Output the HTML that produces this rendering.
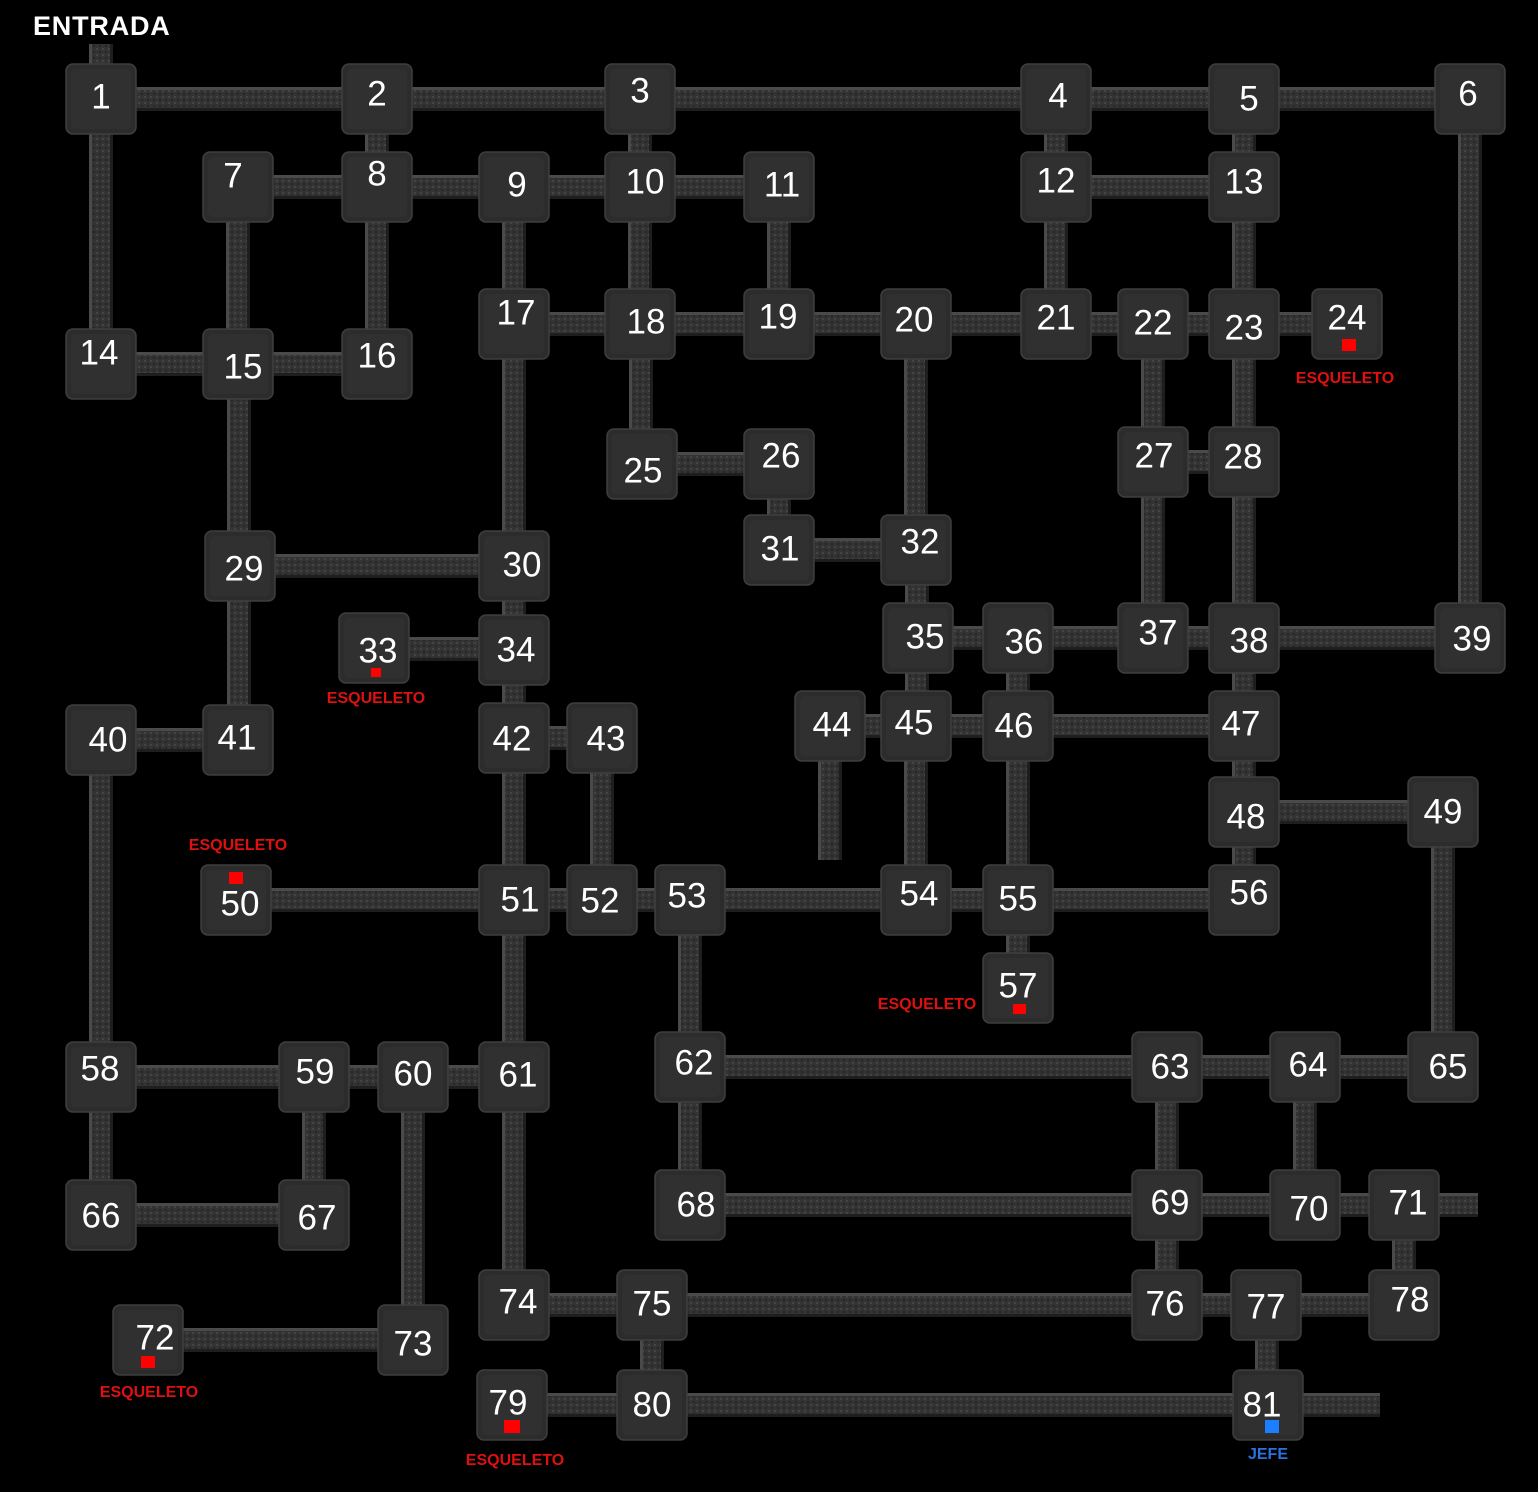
<!DOCTYPE html>
<html><head><meta charset="utf-8"><style>
html,body{margin:0;padding:0;background:#000;}
svg{display:block}
.n{font-family:"Liberation Sans",sans-serif;font-size:35px;fill:#fff;text-anchor:middle;dominant-baseline:central}
.e{font-family:"Liberation Sans",sans-serif;font-size:16px;font-weight:bold;fill:#e01010;text-anchor:middle}
</style></head><body>
<svg id="s" width="1538" height="1492" xmlns="http://www.w3.org/2000/svg">
<defs>
<pattern id="tex" width="6" height="6" patternUnits="userSpaceOnUse">
<rect width="6" height="6" fill="#333"/><rect x="0" y="0" width="2" height="2" fill="#444"/><rect x="3" y="3" width="2" height="2" fill="#262626"/>
</pattern>
</defs>
<g id="cor"></g>
<g id="box"></g>
<g id="lab">
<text x="33" y="35" style="font-family:'Liberation Sans',sans-serif;font-size:27px;font-weight:bold;fill:#fff;letter-spacing:0.8px">ENTRADA</text>
<text class="n" x="101" y="97">1</text><text class="n" x="377" y="94">2</text><text class="n" x="640" y="91">3</text><text class="n" x="1058" y="96">4</text><text class="n" x="1249" y="99">5</text><text class="n" x="1468" y="94">6</text>
<text class="n" x="233" y="176">7</text><text class="n" x="377" y="174">8</text><text class="n" x="517" y="185">9</text><text class="n" x="645" y="182">10</text><text class="n" x="782" y="185">11</text><text class="n" x="1056" y="181">12</text><text class="n" x="1244" y="182">13</text>
<text class="n" x="99" y="353">14</text><text class="n" x="243" y="367">15</text><text class="n" x="377" y="356">16</text><text class="n" x="516" y="313">17</text><text class="n" x="646" y="322">18</text><text class="n" x="778" y="317">19</text><text class="n" x="914" y="320">20</text><text class="n" x="1056" y="318">21</text><text class="n" x="1153" y="323">22</text><text class="n" x="1244" y="328">23</text><text class="n" x="1347" y="318">24</text>
<text class="n" x="643" y="471">25</text><text class="n" x="781" y="456">26</text><text class="n" x="1154" y="456">27</text><text class="n" x="1243" y="457">28</text>
<text class="n" x="244" y="569">29</text><text class="n" x="522" y="565">30</text><text class="n" x="780" y="549">31</text><text class="n" x="920" y="542">32</text>
<text class="n" x="378" y="651">33</text><text class="n" x="516" y="650">34</text><text class="n" x="925" y="637">35</text><text class="n" x="1024" y="642">36</text><text class="n" x="1158" y="633">37</text><text class="n" x="1249" y="641">38</text><text class="n" x="1472" y="639">39</text>
<text class="n" x="108" y="740">40</text><text class="n" x="237" y="738">41</text><text class="n" x="512" y="739">42</text><text class="n" x="606" y="739">43</text><text class="n" x="832" y="725">44</text><text class="n" x="914" y="723">45</text><text class="n" x="1014" y="726">46</text><text class="n" x="1241" y="724">47</text>
<text class="n" x="1246" y="817">48</text><text class="n" x="1443" y="812">49</text>
<text class="n" x="240" y="904">50</text><text class="n" x="520" y="900">51</text><text class="n" x="600" y="901">52</text><text class="n" x="687" y="896">53</text><text class="n" x="919" y="894">54</text><text class="n" x="1018" y="899">55</text><text class="n" x="1249" y="893">56</text><text class="n" x="1018" y="986">57</text>
<text class="n" x="100" y="1069">58</text><text class="n" x="315" y="1072">59</text><text class="n" x="413" y="1074">60</text><text class="n" x="518" y="1075">61</text><text class="n" x="694" y="1063">62</text><text class="n" x="1170" y="1067">63</text><text class="n" x="1308" y="1065">64</text><text class="n" x="1448" y="1067">65</text>
<text class="n" x="101" y="1216">66</text><text class="n" x="317" y="1218">67</text><text class="n" x="696" y="1205">68</text><text class="n" x="1170" y="1203">69</text><text class="n" x="1309" y="1209">70</text><text class="n" x="1408" y="1203">71</text>
<text class="n" x="155" y="1338">72</text><text class="n" x="413" y="1344">73</text><text class="n" x="518" y="1302">74</text><text class="n" x="652" y="1304">75</text><text class="n" x="1165" y="1304">76</text><text class="n" x="1266" y="1307">77</text><text class="n" x="1410" y="1300">78</text>
<text class="n" x="508" y="1403">79</text><text class="n" x="652" y="1405">80</text><text class="n" x="1262" y="1405">81</text>
<rect x="1342" y="339" width="14" height="12" fill="#f00"/><text class="e" x="1345" y="383">ESQUELETO</text>
<rect x="371" y="668" width="10" height="9" fill="#f00"/><text class="e" x="376" y="703">ESQUELETO</text>
<rect x="229" y="872" width="14" height="12" fill="#f00"/><text class="e" x="238" y="850">ESQUELETO</text>
<rect x="1013" y="1004" width="13" height="10" fill="#f00"/><text class="e" x="927" y="1009">ESQUELETO</text>
<rect x="141" y="1356" width="14" height="12" fill="#f00"/><text class="e" x="149" y="1397">ESQUELETO</text>
<rect x="504" y="1420" width="16" height="13" fill="#f00"/><text class="e" x="515" y="1465">ESQUELETO</text>
<rect x="1265" y="1420" width="14" height="13" fill="#1a7fff"/><text class="e" x="1268" y="1459" style="fill:#2a72e0">JEFE</text>
</g>
</svg>
<script>
var P={1:[101,99],2:[377,99],3:[640,99],4:[1056,99],5:[1244,99],6:[1470,99],7:[238,187],8:[377,187],9:[514,187],10:[640,187],11:[779,187],12:[1056,187],13:[1244,187],14:[101,364],15:[238,364],16:[377,364],17:[514,324],18:[640,324],19:[779,324],20:[916,324],21:[1056,324],22:[1153,324],23:[1244,324],24:[1347,324],25:[642,464],26:[779,464],27:[1153,462],28:[1244,462],29:[240,566],30:[514,566],31:[779,550],32:[916,550],33:[374,648],34:[514,650],35:[918,638],36:[1018,638],37:[1153,638],38:[1244,638],39:[1470,638],40:[101,740],41:[238,740],42:[514,738],43:[602,738],44:[830,726],45:[916,726],46:[1018,726],47:[1244,726],48:[1244,812],49:[1443,812],50:[236,900],51:[514,900],52:[602,900],53:[690,900],54:[916,900],55:[1018,900],56:[1244,900],57:[1018,988],58:[101,1077],59:[314,1077],60:[413,1077],61:[514,1077],62:[690,1067],63:[1167,1067],64:[1305,1067],65:[1443,1067],66:[101,1215],67:[314,1215],68:[690,1205],69:[1167,1205],70:[1305,1205],71:[1404,1205],72:[148,1340],73:[413,1340],74:[514,1305],75:[652,1305],76:[1167,1305],77:[1266,1305],78:[1404,1305],79:[512,1405],80:[652,1405],81:[1268,1405]};
var E="1-2 2-3 3-4 4-5 5-6 1-14 2-8 3-10 4-12 5-13 6-39 7-8 8-9 9-10 10-11 12-13 7-15 8-16 9-17 10-18 11-19 12-21 13-23 14-15 15-16 17-18 18-19 19-20 20-21 21-22 22-23 23-24 18-25 25-26 22-27 23-28 27-28 15-29 17-30 26-31 20-32 31-32 29-30 30-34 33-34 27-37 28-38 32-35 35-36 36-37 37-38 38-39 29-41 40-41 34-42 42-43 35-45 36-46 38-47 44-45 45-46 46-47 47-48 48-49 43-52 42-51 45-54 46-55 48-56 49-65 40-58 50-51 51-52 52-53 53-54 54-55 55-56 55-57 51-61 53-62 58-59 59-60 60-61 62-63 63-64 64-65 58-66 59-67 60-73 62-68 63-69 64-70 66-67 68-69 69-70 70-71 61-74 69-76 71-78 72-73 74-75 75-76 76-77 77-78 75-80 77-81 79-80 80-81".split(" ");
var NS="http://www.w3.org/2000/svg",cor=document.getElementById("cor"),box=document.getElementById("box");
function r(g,x,y,w,h,f,rx,st){var e=document.createElementNS(NS,"rect");e.setAttribute("x",x);e.setAttribute("y",y);e.setAttribute("width",w);e.setAttribute("height",h);e.setAttribute("fill",f);if(rx)e.setAttribute("rx",rx);if(st){e.setAttribute("stroke",st);e.setAttribute("stroke-width",1.5);}g.appendChild(e);}
function seg(x1,y1,x2,y2){var w=24;if(y1==y2||Math.abs(y1-y2)<Math.abs(x1-x2)){var y=(y1+y2)/2;r(cor,Math.min(x1,x2),y-w/2,Math.abs(x2-x1),w,"url(#tex)");r(cor,Math.min(x1,x2),y-w/2,Math.abs(x2-x1),3,"#4a4a4a");r(cor,Math.min(x1,x2),y+w/2-3,Math.abs(x2-x1),3,"#1e1e1e");}else{var x=(x1+x2)/2;r(cor,x-w/2,Math.min(y1,y2),w,Math.abs(y2-y1),"url(#tex)");r(cor,x-w/2,Math.min(y1,y2),3,Math.abs(y2-y1),"#4a4a4a");r(cor,x+w/2-3,Math.min(y1,y2),3,Math.abs(y2-y1),"#1e1e1e");}}
E.forEach(function(s){var a=s.split("-"),p=P[a[0]],q=P[a[1]];seg(p[0],p[1],q[0],q[1]);});
seg(101,44,101,99);seg(830,726,830,860);seg(1404,1205,1478,1205);seg(1268,1405,1380,1405);
for(var k in P){var p=P[k];r(box,p[0]-35,p[1]-35,70,70,"#2c2c2c",7,"#3e3e3e");r(box,p[0]-30,p[1]-30,60,60,"#303030",5);}
</script>
</body></html>
